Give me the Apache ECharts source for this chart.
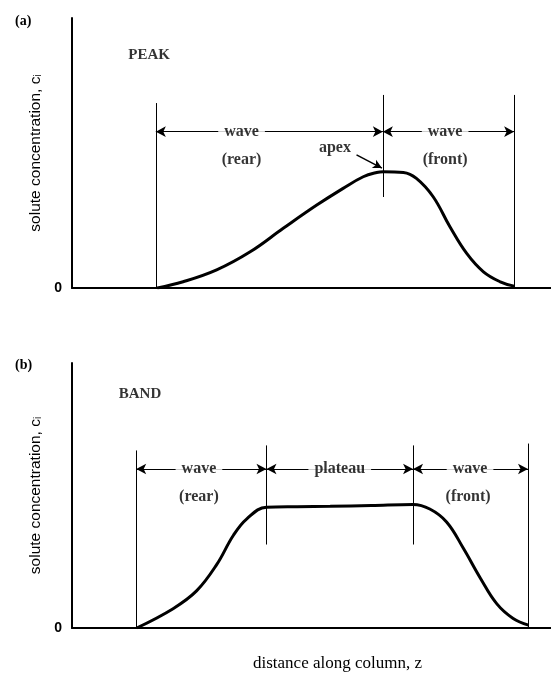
<!DOCTYPE html>
<html><head><meta charset="utf-8">
<script src="https://cdn.jsdelivr.net/npm/echarts@6/dist/echarts.min.js"></script>
<style>html,body{margin:0;padding:0;background:#fff}#c{width:551px;height:673px}</style>
</head><body><div id="c"></div>
<script>
// ---- data (distance 0..100, concentration 0..100) ----
const peakX = [17.8, 23.2, 30.2, 37.2, 44.1, 51.1, 56.6, 60.8, 63.6, 65.0, 69.2, 71.9, 75.4, 78.9, 82.4, 85.9, 89.4, 92.3];
const peakY = [0, 2.3, 6.7, 13.4, 22.1, 30.7, 36.9, 41.2, 42.8, 43.1, 42.8, 40.6, 33.8, 22.7, 12.8, 6.0, 2.3, 0.7];
const bandX = [13.5, 21.1, 26.0, 30.2, 33.7, 36.5, 40.6, 47.0, 53.9, 62.5, 71.2, 74.7, 78.2, 81.7, 85.2, 88.7, 92.1, 95.3];
const bandY = [0, 7.3, 14.0, 23.9, 35.0, 41.2, 45.6, 45.8, 45.9, 46.2, 46.6, 44.9, 40.0, 30.1, 19.0, 9.1, 3.6, 1.1];

const peakLineX = [17.5, 64.9, 92.3];
const peakLineTop = [68.5, 71.5, 71.5];
const peakLineBottom = [0, 33.7, 0];
const peakArrowY = 57.9;
const peakLabels = ['wave', 'wave'];
const peakLabelX = [35.4, 77.9];
const peakSubLabels = ['(rear)', '(front)'];
const peakSubY = 47.4;
const apexText = ['apex', 54.9, 51.9];
const apexArrow = [[59.4, 49.3], [64.7, 44.4]];

const bandLineX = [13.4, 40.6, 71.2, 95.2];
const bandLineTop = [67.0, 68.9, 68.9, 69.6];
const bandLineBottom = [0, 31.5, 31.5, 0];
const bandArrowY = 60.0;
const bandLabels = ['wave', 'plateau', 'wave'];
const bandLabelX = [26.5, 55.9, 83.1];
const bandSubLabels = ['(rear)', '(front)'];
const bandSubX = [26.5, 82.7];
const bandSubY = 49.6;

const panelTitles = ['PEAK', 'BAND'];
const panelTitlePos = [[16.1, 86.3], [14.2, 88.1]];
const panelLetters = ['(a)', '(b)'];
const yTitle = 'solute concentration, c';
const xTitle = 'distance along column, z';

// ---- build ----
const serif = 'Liberation Serif';
function toPairs(xs, ys) { return xs.map((x, i) => [x, ys[i]]); }
function vlines(xs, tops, bots) {
  return xs.map((x, i) => [{ coord: [x, bots[i]] }, { coord: [x, tops[i]] }]);
}
function arrows(xs, y) {
  const r = [];
  for (let i = 0; i < xs.length - 1; i++) r.push([{ coord: [xs[i], y] }, { coord: [xs[i + 1], y] }]);
  return r;
}
const lblStyle = { show: true, position: 'inside', color: '#000', fontFamily: serif, fontWeight: 'bold', fontSize: 16,
  formatter: p => p.name };
const lblBg = Object.assign({}, lblStyle, { backgroundColor: '#fff', padding: [0, 6] });

function panelSeries(gi, xs, ys, lx, lt, lb, ay, labs, labX, subs, subX, subY, extra) {
  const s = [];
  s.push({ type: 'line', xAxisIndex: gi, yAxisIndex: gi, data: toPairs(xs, ys), smooth: 0.4, showSymbol: false,
    lineStyle: { color: '#000', width: 3 }, z: 3,
    markLine: { silent: true, symbol: ['none', 'none'], label: { show: false },
      lineStyle: { color: '#000', width: 1, type: 'solid' }, data: vlines(lx, lt, lb) } });
  s.push({ type: 'line', xAxisIndex: gi, yAxisIndex: gi, data: [],
    markLine: { silent: true, symbol: ['arrow', 'arrow'], symbolSize: [8, 10], label: { show: false },
      lineStyle: { color: '#000', width: 1, type: 'solid' }, data: arrows(lx, ay) } });
  const txt = labs.map((t, i) => ({ name: t, value: [labX[i], ay] }));
  s.push({ type: 'scatter', xAxisIndex: gi, yAxisIndex: gi, symbolSize: 0, data: txt, label: lblBg, z: 10 });
  const sub = subs.map((t, i) => ({ name: t, value: [subX[i], subY] }));
  s.push({ type: 'scatter', xAxisIndex: gi, yAxisIndex: gi, symbolSize: 0, data: sub, label: lblStyle, z: 10 });
  s.push({ type: 'scatter', xAxisIndex: gi, yAxisIndex: gi, symbolSize: 0,
    data: [{ name: panelTitles[gi], value: panelTitlePos[gi] }],
    label: Object.assign({}, lblStyle, { fontSize: 15 }), z: 10 });
  if (extra) s.push(...extra);
  return s;
}

const apexSeries = [
  { type: 'scatter', xAxisIndex: 0, yAxisIndex: 0, symbolSize: 0,
    data: [{ name: apexText[0], value: [apexText[1], apexText[2]] }], label: lblStyle, z: 10 },
  { type: 'line', xAxisIndex: 0, yAxisIndex: 0, data: [],
    markLine: { silent: true, symbol: ['none', 'arrow'], symbolSize: [7, 9], label: { show: false },
      lineStyle: { color: '#000', width: 1.5, type: 'solid', curveness: -0.25 },
      data: [[{ coord: apexArrow[0] }, { coord: apexArrow[1] }]] } }
];

const axisCommon = {
  axisLine: { show: true, onZero: false, lineStyle: { color: '#000', width: 2 } },
  axisTick: { show: false }, splitLine: { show: false }
};
function xAx(gi, named) {
  return Object.assign({ type: 'value', gridIndex: gi, min: 0, max: 100, axisLabel: { show: false } }, axisCommon,
    named ? { name: xTitle, nameLocation: 'middle', nameGap: 27,
      nameTextStyle: { fontFamily: serif, fontSize: 17, color: '#000', padding: [0, 0, 0, 52] } } : {});
}
function yAx(gi) {
  return Object.assign({ type: 'value', gridIndex: gi, min: 0, max: 100, interval: 100,
    axisLabel: { show: true, margin: 10, color: '#000', fontFamily: 'Liberation Sans', fontWeight: 'bold', fontSize: 14,
      formatter: v => (v === 0 ? '0' : '') },
    name: yTitle + '{sub|i}', nameLocation: 'middle', nameGap: 26, nameRotate: 90,
    nameTextStyle: { fontFamily: 'Liberation Sans', fontSize: 15.5, color: '#000',
      rich: { sub: { fontFamily: 'Liberation Sans', fontSize: 10, verticalAlign: 'bottom', padding: [6, 0, 0, 0] } } } },
    axisCommon);
}

const option = {
  animation: false,
  backgroundColor: '#fff',
  title: [
    { text: panelLetters[0], left: 10, top: 9, textStyle: { fontFamily: serif, fontWeight: 'bold', fontSize: 14, color: '#000' } },
    { text: panelLetters[1], left: 10, top: 353, textStyle: { fontFamily: serif, fontWeight: 'bold', fontSize: 14, color: '#000' } }
  ],
  grid: [
    { left: 72, top: 18, right: 0, height: 270 },
    { left: 72, top: 363, right: 0, height: 270 }
  ],
  xAxis: [xAx(0, false), xAx(1, true)],
  yAxis: [yAx(0), yAx(1)],
  series: [
    ...panelSeries(0, peakX, peakY, peakLineX, peakLineTop, peakLineBottom, peakArrowY,
      peakLabels, peakLabelX, peakSubLabels, peakLabelX, peakSubY, apexSeries),
    ...panelSeries(1, bandX, bandY, bandLineX, bandLineTop, bandLineBottom, bandArrowY,
      bandLabels, bandLabelX, bandSubLabels, bandSubX, bandSubY, null)
  ]
};
const chart = echarts.init(document.getElementById('c'), null, { renderer: 'canvas' });
chart.setOption(option);
</script></body></html>
